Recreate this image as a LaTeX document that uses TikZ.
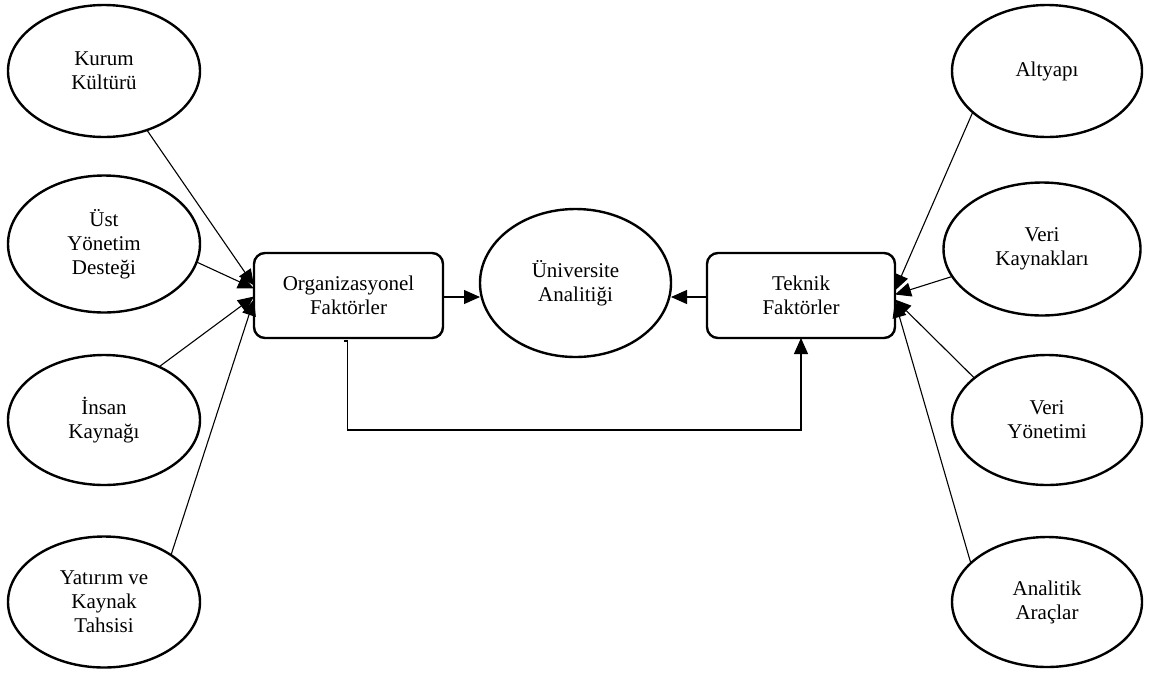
\documentclass[tikz,border=0pt]{standalone}
\usepackage{fontspec}
\setmainfont{Liberation Serif}
\usetikzlibrary{shapes.geometric,arrows.meta,calc}
\begin{document}
\begin{tikzpicture}[x=1pt,y=-1pt,
  lbl/.style={font=\fontsize{21}{24}\selectfont, align=center, inner sep=0pt, outer sep=0pt},
  oval/.style={lbl, ellipse, draw, line width=2.4pt},
  factor/.style={lbl, rectangle, rounded corners=11pt, draw, line width=2.4pt,
                 minimum width=189pt, minimum height=85pt},
  conn/.style={line width=1.1pt},
  arr/.style={conn, -{Triangle[length=16pt,width=14pt]}}]
\useasboundingbox (0,0) rectangle (1150,673);

% left column
\node[oval, minimum width=192pt, minimum height=132pt] (kurum)   at (104,71)  {Kurum\\Kültürü};
\node[oval, minimum width=192pt, minimum height=137pt] (ust)     at (104,244) {Üst\\Yönetim\\Desteği};
\node[oval, minimum width=192pt, minimum height=130pt] (insan)   at (104,420) {İnsan\\Kaynağı};
\node[oval, minimum width=192pt, minimum height=131pt] (yatirim) at (104,602) {Yatırım ve\\Kaynak\\Tahsisi};

% right column
\node[oval, minimum width=190pt, minimum height=132pt] (altyapi)  at (1047,71)  {Altyapı};
\node[oval, minimum width=197pt, minimum height=133pt] (verik)    at (1042,249) {Veri\\Kaynakları};
\node[oval, minimum width=190pt, minimum height=130pt] (veriy)    at (1047,420) {Veri\\Yönetimi};
\node[oval, minimum width=190pt, minimum height=130pt] (analitik) at (1047,602) {Analitik\\Araçlar};

% centre
\node[factor] (org) at (348.5,295.5) {Organizasyonel\\Faktörler};
\node[factor, minimum width=188pt] (tek) at (801,295.5) {Teknik\\Faktörler};
\node[oval, minimum width=191pt, minimum height=148pt] (uni) at (575.5,283) {Üniversite\\Analitiği};

% organisational inputs
\draw[arr] (kurum.-54)  -- ($(org.west)+(0,-10)$);
\draw[arr] (ust.-11)    -- ($(org.west)+(0,-7)$);
\draw[arr] (insan.44)   -- ($(org.west)+(0,1)$);
\draw[arr] (yatirim.35) -- ($(org.west)+(0,4)$);

% technical inputs
\draw[arr] (altyapi.-151) -- ($(tek.east)+(0,-5)$);
\draw[arr] (verik.197)    -- ($(tek.east)+(0,-1)$);
\draw[arr] (veriy.150)    -- ($(tek.east)+(0,4)$);
\draw[arr] (analitik.153) -- ($(tek.east)+(0,6)$);

% factors into the centre
\coordinate (orgout) at ($(org.east)+(0,1.5)$);
\coordinate (tekout) at ($(tek.west)+(0,1.5)$);
\draw[arr] (orgout) -- (orgout -| uni.west);
\draw[arr] (tekout) -- (tekout -| uni.east);

% link from organisational to technical factors
\coordinate (linkstart) at ($(org.south)+(-5,3)$);
\draw[arr] (linkstart) -- ++(4,0) -- ++(0,89) -| (tek.south);
\end{tikzpicture}
\end{document}
